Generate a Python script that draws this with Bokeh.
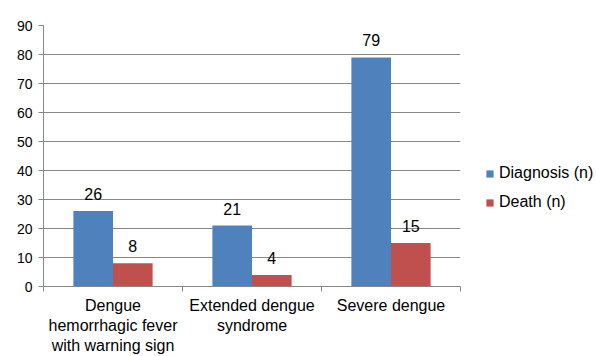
from bokeh.plotting import figure
from bokeh.models import ColumnDataSource, FixedTicker, Range1d, LabelSet, Legend, LegendItem
from bokeh.core.properties import value
from bokeh.embed import file_html
from bokeh.resources import INLINE

categories = ["Dengue\nhemorrhagic fever\nwith warning sign", "Extended dengue\nsyndrome", "Severe dengue"]
diagnosis = [26, 21, 79]
death = [8, 4, 15]
y_ticks = list(range(0, 91, 10))
series_names = ["Diagnosis (n)", "Death (n)"]

BLUE = "#4F81BD"
RED = "#C0504D"
GRAY = "#878787"
FONT = "Liberation Sans"

n = len(categories)
centers = [i + 0.5 for i in range(n)]
bw = 0.285
src = ColumnDataSource(dict(
    xd=[c - bw / 2 for c in centers],
    xr=[c + bw / 2 for c in centers],
    diag=diagnosis,
    death=death,
    ld=[str(v) for v in diagnosis],
    lr=[str(v) for v in death],
))

p = figure(frame_width=417, frame_height=261, output_backend="svg", toolbar_location=None,
           x_range=Range1d(0, n), y_range=Range1d(0, 90))
p.min_border_left = 43
p.min_border_right = 136
p.min_border_top = 25
p.min_border_bottom = 70
p.outline_line_color = None
p.background_fill_color = "white"
p.border_fill_color = "white"

r1 = p.vbar(x="xd", top="diag", width=bw, bottom=0, source=src, fill_color=BLUE, line_color=None)
r2 = p.vbar(x="xr", top="death", width=bw, bottom=0, source=src, fill_color=RED, line_color=None)

for col, top, lab in (("xd", "diag", "ld"), ("xr", "death", "lr")):
    ls = LabelSet(x=col, y=top, text=lab, source=src,
                  text_align="center", text_baseline="alphabetic", y_offset=11,
                  text_font=value(FONT), text_font_size="16px", text_color="black")
    p.add_layout(ls)

# x axis
xa = p.xaxis[0]
xa.ticker = FixedTicker(ticks=centers, minor_ticks=list(range(n + 1)))
xa.major_label_overrides = {c: lab for c, lab in zip(centers, categories)}
xa.major_tick_line_color = None
xa.minor_tick_line_color = GRAY
xa.minor_tick_in = 0
xa.minor_tick_out = 5
xa.axis_line_color = GRAY
xa.major_label_text_font = FONT
xa.major_label_text_font_size = "16px"
xa.major_label_text_color = "black"
xa.major_label_standoff = 4

ya = p.yaxis[0]
ya.ticker = FixedTicker(ticks=y_ticks)
ya.minor_tick_line_color = None
ya.major_tick_line_color = GRAY
ya.major_tick_in = 0
ya.major_tick_out = 5
ya.axis_line_color = GRAY
ya.major_label_text_font = FONT
ya.major_label_text_font_size = "14px"
ya.major_label_text_color = "black"
ya.major_label_standoff = 6

p.xgrid.grid_line_color = None
p.ygrid.grid_line_color = GRAY
p.ygrid.ticker = FixedTicker(ticks=y_ticks)

legend = Legend(items=[LegendItem(label=series_names[0], renderers=[r1]),
                       LegendItem(label=series_names[1], renderers=[r2])],
                location=(25, 75))
legend.padding = 0
legend.margin = 0
legend.spacing = 11
legend.glyph_width = 9
legend.glyph_height = 9
legend.label_standoff = 5
legend.border_line_color = None
legend.background_fill_alpha = 0
legend.label_text_font = FONT
legend.label_text_font_size = "16px"
legend.label_text_color = "black"
p.add_layout(legend, "right")

open("out.html", "w").write(file_html(p, INLINE))
